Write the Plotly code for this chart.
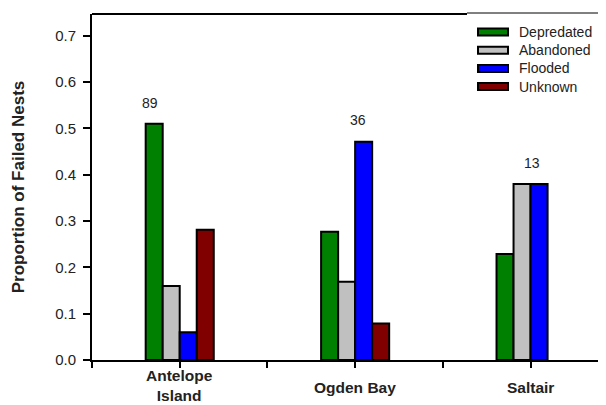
import plotly.graph_objects as go

# ---- data ----
sites = ["Antelope<br>Island", "Ogden Bay", "Saltair"]
series_names = ["Depredated", "Abandoned", "Flooded", "Unknown"]
depredated = [0.51, 0.277, 0.229]
abandoned = [0.16, 0.169, 0.38]
flooded = [0.06, 0.471, 0.38]
unknown = [0.281, 0.079, None]
sample_sizes = ["89", "36", "13"]
label_x = [-0.17, 1.015, 2.007]
label_y = [0.555, 0.518, 0.425]
y_ticks = [0.0, 0.1, 0.2, 0.3, 0.4, 0.5, 0.6, 0.7]

colors = ["#008000", "#C0C0C0", "#0000FF", "#800000"]
values = [depredated, abandoned, flooded, unknown]
xpos = list(range(len(sites)))

FONT = "Liberation Sans, Arial, sans-serif"
TXT = "#222222"

# page is offset by the default 8px body margin
OFF = 8
W, H = 606 - OFF, 405 - OFF
# plot area in page pixels: left 92, top 14, bottom 360, right 606
ml, mt, mb, mr = 92 - OFF, 14 - OFF, (H + OFF) - 360, 0
pw, ph = W - ml - mr, H - mt - mb


def px_x(p):  # page px -> paper x
    return (p - OFF - ml) / pw


def px_y(p):  # page px -> paper y
    return (H - mb - (p - OFF)) / ph


fig = go.Figure()
for name, vals, col in zip(series_names, values, colors):
    fig.add_trace(go.Bar(
        x=xpos, y=vals, name=name,
        marker=dict(color=col, line=dict(color="black", width=2)),
        showlegend=False,
    ))

# sample size labels
for t, lx, ly in zip(sample_sizes, label_x, label_y):
    fig.add_annotation(x=lx, y=ly, xref="x", yref="y", text=t, showarrow=False,
                       font=dict(family=FONT, size=14, color=TXT))

# category labels (bold) under the axis
for xi, s in zip(xpos, sites):
    if "<br>" in s:
        fig.add_annotation(x=xi, xref="x", yref="paper", y=px_y(404.5), yanchor="bottom",
                           text="<b>" + s + "</b>", showarrow=False, borderpad=0,
                           font=dict(family=FONT, size=15.5, color=TXT))
    else:
        fig.add_annotation(x=xi, xref="x", yref="paper", y=px_y(387), yanchor="middle",
                           text="<b>" + s + "</b>", showarrow=False, borderpad=0,
                           font=dict(family=FONT, size=15.5, color=TXT))

# custom legend (wide swatches)
leg_y0 = 32
leg_dy = 18.2
for i, (name, col) in enumerate(zip(series_names, colors)):
    cy = leg_y0 + i * leg_dy
    fig.add_shape(type="rect", xref="paper", yref="paper",
                  x0=px_x(478), x1=px_x(508), y0=px_y(cy - 3.5), y1=px_y(cy + 3.5),
                  fillcolor=col, line=dict(color="black", width=2))
    fig.add_annotation(xref="paper", yref="paper", x=px_x(517), y=px_y(cy),
                       xanchor="left", yanchor="middle", text=name, showarrow=False,
                       font=dict(family=FONT, size=14, color=TXT))

# top frame lines
fig.add_shape(type="line", xref="paper", yref="paper", x0=0, x1=px_x(467),
              y0=1, y1=1, line=dict(color="black", width=2))
fig.add_shape(type="line", xref="paper", yref="paper", x0=px_x(467), x1=1,
              y0=px_y(13), y1=px_y(13), line=dict(color="black", width=1))

fig.update_layout(
    width=W, height=H,
    margin=dict(l=ml, r=mr, t=mt, b=mb, autoexpand=False),
    paper_bgcolor="white", plot_bgcolor="white",
    barmode="group", bargap=0.612, bargroupgap=0,
    font=dict(family=FONT, color=TXT),
)

fig.update_xaxes(
    range=[-0.5, 2.43],
    tickvals=[-0.5, 0, 0.5, 1, 1.5, 2],
    showticklabels=False,
    ticks="outside", ticklen=6, tickwidth=2, tickcolor="black",
    showline=True, linecolor="black", linewidth=2,
    showgrid=False, zeroline=False, automargin=False,
)
fig.update_yaxes(
    range=[0, 0.747],
    tickvals=y_ticks, tickformat=".1f",
    ticks="outside", ticklen=7, tickwidth=2, tickcolor="black",
    showline=True, linecolor="black", linewidth=2,
    showgrid=False, zeroline=False, automargin=False,
    tickfont=dict(family=FONT, size=15, color=TXT),
    ticklabelstandoff=4,
    title=dict(text="<b>Proportion of Failed Nests</b>",
               font=dict(family=FONT, size=17, color=TXT), standoff=26),
)

fig.write_html("out.html")
